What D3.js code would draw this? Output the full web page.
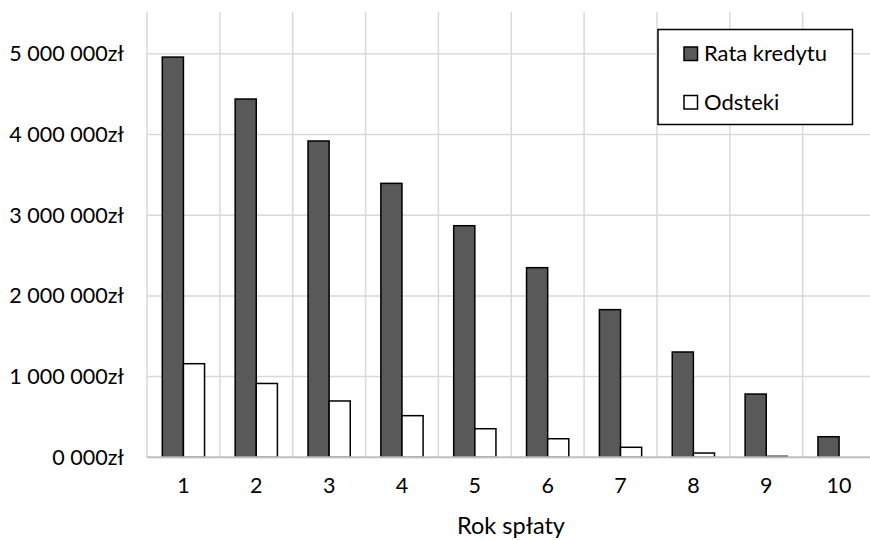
<!DOCTYPE html>
<html>
<head>
<meta charset="utf-8">
<script src="https://cdn.jsdelivr.net/npm/d3@7"></script>
<style>
  html, body { margin: 0; padding: 0; background: #fff; }
  svg { display: block; font-family: Lato, "Open Sans", sans-serif; }
</style>
</head>
<body>
<svg id="chart" width="870" height="540"></svg>
<script>
// Loan repayment per year (PLN)
const years = ["1", "2", "3", "4", "5", "6", "7", "8", "9", "10"];
const rataKredytu = [4960000, 4440000, 3920000, 3395000, 2870000, 2350000, 1830000, 1305000, 784000, 255000];
const odsetki = [1160000, 915000, 698000, 516000, 354000, 230000, 124000, 53000, 12000, 0];
const seriesNames = ["Rata kredytu", "Odsteki"];
const seriesFill = ["#595959", "#ffffff"];
const yTicks = [0, 1000000, 2000000, 3000000, 4000000, 5000000];
const yMax = 5500000;

const svg = d3.select("#chart");
const plot = { left: 147, right: 875.5, top: 13.5, bottom: 457.3 };

const x = d3.scaleBand().domain(years).range([plot.left, plot.right]).padding(0);
const groupFrac = 0.58;
const x1 = d3.scaleBand().domain(seriesNames)
  .range([x.bandwidth() * (1 - groupFrac) / 2, x.bandwidth() * (1 + groupFrac) / 2]);
const y = d3.scaleLinear().domain([0, yMax]).range([plot.bottom, plot.top]);

const fmt = v => {
  const s = d3.format(",")(v).replace(/,/g, " ");
  return (v === 0 ? "0 000" : s) + "zł";
};

// horizontal gridlines
svg.append("g")
  .selectAll("line").data(yTicks.filter(t => t > 0)).join("line")
  .attr("x1", plot.left).attr("x2", plot.right)
  .attr("y1", d => y(d)).attr("y2", d => y(d))
  .attr("stroke", "#d9d9d9").attr("stroke-width", 1.5);

// vertical gridlines at category boundaries
svg.append("g")
  .selectAll("line").data(years).join("line")
  .attr("x1", d => x(d)).attr("x2", d => x(d))
  .attr("y1", plot.top - 1.5).attr("y2", plot.bottom)
  .attr("stroke", "#d9d9d9").attr("stroke-width", 1.5);

// y axis labels
const yAxis = d3.axisLeft(y).tickValues(yTicks).tickFormat(fmt).tickSize(0).tickPadding(23);
const gy = svg.append("g").attr("transform", `translate(${plot.left},0)`).call(yAxis);
gy.select(".domain").remove();
gy.selectAll("text").attr("font-size", 21.5).attr("fill", "#000")
  .style("font-family", "Lato, 'Open Sans', sans-serif");

// bars
const data = years.map((yr, i) => ({ yr, vals: [rataKredytu[i], odsetki[i]] }));
const groups = svg.append("g").selectAll("g").data(data).join("g")
  .attr("transform", d => `translate(${x(d.yr)},0)`);
groups.selectAll("rect")
  .data(d => d.vals.map((v, k) => ({ k, v })).filter(e => e.v > 0))
  .join("rect")
  .attr("x", e => x1(seriesNames[e.k]))
  .attr("width", x1.bandwidth())
  .attr("y", e => y(e.v))
  .attr("height", e => y(0) - y(e.v))
  .attr("fill", e => seriesFill[e.k])
  .attr("stroke", "#000").attr("stroke-width", 1.5);

// x axis
const xAxis = d3.axisBottom(x).tickSize(0).tickPadding(20);
const gx = svg.append("g").attr("transform", `translate(0,${plot.bottom})`).call(xAxis);
gx.select(".domain").attr("stroke", "#bfbfbf").attr("stroke-width", 2)
  .attr("d", `M${plot.left},0H${plot.right}`);
gx.selectAll("text").attr("font-size", 21.5).attr("fill", "#000")
  .style("font-family", "Lato, 'Open Sans', sans-serif");

// x axis title
svg.append("text")
  .attr("x", 511).attr("y", 534)
  .attr("text-anchor", "middle")
  .attr("font-size", 23.5)
  .text("Rok spłaty");

// legend
const lg = svg.append("g");
lg.append("rect").attr("x", 658).attr("y", 29.5).attr("width", 194.5).attr("height", 95)
  .attr("fill", "#fff").attr("stroke", "#000").attr("stroke-width", 1.5);
const items = lg.selectAll("g.item").data(seriesNames).join("g")
  .attr("class", "item")
  .attr("transform", (d, i) => `translate(684,${47 + i * 48.5})`);
items.append("rect").attr("width", 13.5).attr("height", 13.5)
  .attr("fill", (d, i) => seriesFill[i]).attr("stroke", "#000").attr("stroke-width", 1.5);
items.append("text").attr("x", 20).attr("y", 14)
  .attr("font-size", 22).text(d => d);
</script>
</body>
</html>
